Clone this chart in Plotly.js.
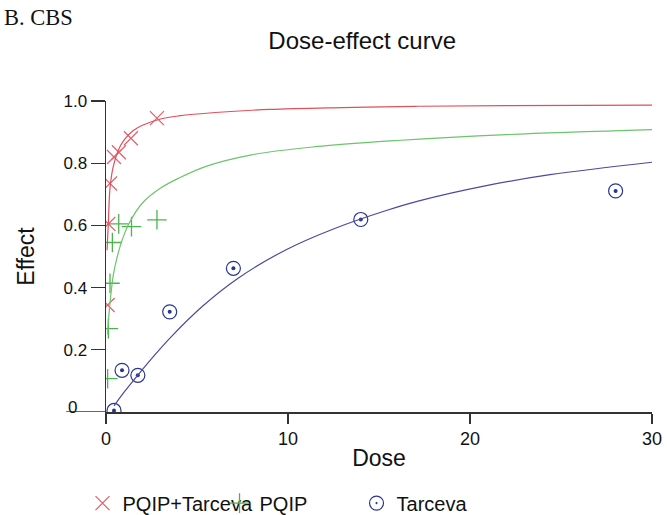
<!DOCTYPE html>
<html>
<head>
<meta charset="utf-8">
<script src="https://cdn.plot.ly/plotly-3.0.1.min.js"></script>
<style>html,body{margin:0;padding:0;background:#fff;}#chart{width:667px;height:515px;}</style>
</head>
<body>
<div id="chart"></div>
<script>
// Observed points
const comboDose   = [0.09, 0.13, 0.22, 0.44, 0.71, 1.37, 2.8];
const comboEffect = [0.344, 0.605, 0.735, 0.82, 0.835, 0.88, 0.945];
const pqipDose    = [0.09, 0.13, 0.22, 0.35, 0.7, 1.4, 2.8];
const pqipEffect  = [0.107, 0.268, 0.414, 0.545, 0.605, 0.596, 0.618];
const tarDose     = [0.44, 0.88, 1.75, 3.5, 7, 14, 28];
const tarEffect   = [0.005, 0.134, 0.118, 0.322, 0.462, 0.619, 0.711];

// Fitted curves
const comboCurveDose   = [0.06, 0.09, 0.13, 0.22, 0.4, 0.7, 1.0, 1.5, 2.0, 3.0, 4.0, 6.0, 9.0, 13, 17, 22, 30];
const comboCurveEffect = [0.52, 0.56, 0.61, 0.72, 0.79, 0.845, 0.875, 0.905, 0.922, 0.942, 0.952, 0.963, 0.973, 0.979, 0.983, 0.985, 0.987];
const pqipCurveDose    = [0.09, 0.13, 0.22, 0.4, 0.6, 0.9, 1.3, 2.0, 3.0, 4.0, 5.5, 8.0, 11.5, 16, 22, 30];
const pqipCurveEffect  = [0.25, 0.29, 0.35, 0.44, 0.495, 0.555, 0.61, 0.672, 0.72, 0.752, 0.79, 0.827, 0.853, 0.873, 0.892, 0.908];
const tarCurveDose     = [0.44, 0.9, 1.74, 2.6, 3.5, 5.3, 7.2, 9.9, 12.6, 15.4, 17.2, 20.9, 24.4, 30];
const tarCurveEffect   = [0.02, 0.057, 0.118, 0.178, 0.237, 0.34, 0.428, 0.522, 0.591, 0.648, 0.679, 0.728, 0.763, 0.803];

const seriesNames = ['PQIP+Tarceva', 'PQIP', 'Tarceva'];
const xTickVals = [0, 10, 20, 30];
const yTickVals = [0.2, 0.4, 0.6, 0.8, 1.0];
const yTickText = ['0.2', '0.4', '0.6', '0.8', '1.0'];

const FONT = 'Arial, "Liberation Sans", sans-serif';
const RED_LINE = '#e0505a', RED_MK = '#e06470';
const GREEN_LINE = '#6cc46c', GREEN_MK = '#4cb44c';
const BLUE_LINE = '#4a4a9e', BLUE_MK = '#2a3590';

const traces = [
  {x: comboDose, y: comboEffect, name: seriesNames[0], mode: 'markers', type: 'scatter',
   marker: {symbol: 'x-thin-open', size: 14, color: RED_MK, line: {color: RED_MK, width: 1.3}}},
  {x: pqipDose, y: pqipEffect, name: seriesNames[1], mode: 'markers', type: 'scatter',
   marker: {symbol: 'cross-thin-open', size: 14, color: GREEN_MK, line: {color: GREEN_MK, width: 1.3}}},
  {x: tarDose, y: tarEffect, name: seriesNames[2], mode: 'markers', type: 'scatter',
   marker: {symbol: 'circle-open-dot', size: 14, color: BLUE_MK, line: {color: BLUE_MK, width: 1.2}}},
  {x: tarDose, y: tarEffect, mode: 'markers', type: 'scatter', showlegend: false, hoverinfo: 'skip',
   marker: {symbol: 'circle', size: 4, color: BLUE_MK}},
  {x: comboCurveDose, y: comboCurveEffect, mode: 'lines', type: 'scatter', showlegend: false,
   line: {color: RED_LINE, width: 1.2, shape: 'spline'}},
  {x: pqipCurveDose, y: pqipCurveEffect, mode: 'lines', type: 'scatter', showlegend: false,
   line: {color: GREEN_LINE, width: 1.2, shape: 'spline'}},
  {x: tarCurveDose, y: tarCurveEffect, mode: 'lines', type: 'scatter', showlegend: false,
   line: {color: BLUE_LINE, width: 1.2, shape: 'spline'}}
];

const layout = {
  width: 667, height: 515,
  margin: {l: 106, r: 15, t: 101, b: 103, autoexpand: false},
  paper_bgcolor: '#fff', plot_bgcolor: '#fff',
  font: {family: FONT, color: '#111'},
  title: {text: 'Dose-effect curve', font: {size: 24, family: FONT, color: '#111'},
          x: 0.543, xref: 'container', xanchor: 'center', y: 0.922, yref: 'container', yanchor: 'middle'},
  xaxis: {range: [0, 30], tickvals: xTickVals, ticks: 'outside', ticklen: 10, tickwidth: 1.3, tickcolor: '#333',
          showline: true, linecolor: '#333', linewidth: 1.5, showgrid: false, zeroline: false, automargin: false,
          tickfont: {size: 18, family: FONT, color: '#111'},
          title: {text: 'Dose', font: {size: 23, family: FONT, color: '#111'}, standoff: 2}},
  yaxis: {range: [0, 1.0], tickvals: yTickVals, ticktext: yTickText, ticks: 'outside', ticklen: 14, tickwidth: 1.3, tickcolor: '#333',
          showline: true, linecolor: '#333', linewidth: 1.5, showgrid: false, zeroline: false, automargin: false,
          tickfont: {size: 17, family: FONT, color: '#111'},
          title: {text: 'Effect', font: {size: 23, family: FONT, color: '#111'}, standoff: 22}},
  showlegend: true,
  legend: {orientation: 'h', x: -0.043, xanchor: 'left', y: -0.293, yanchor: 'middle',
           font: {size: 20, family: FONT, color: '#111'}, itemwidth: 30,
           entrywidth: 92, entrywidthmode: 'pixels', bgcolor: 'rgba(0,0,0,0)', tracegroupgap: 0},
  shapes: [
    {type: 'line', xref: 'paper', yref: 'y', x0: -0.073, x1: 0, y0: 0, y1: 0, line: {color: '#333', width: 1.5}}
  ],
  annotations: [
    {text: 'B. CBS', xref: 'paper', yref: 'paper', x: -0.19, y: 1.27, xanchor: 'left', yanchor: 'middle', showarrow: false,
     font: {family: '"Liberation Serif", "Times New Roman", serif', size: 22.5, color: '#111'}},
    {text: '0', xref: 'paper', yref: 'y', x: -0.062, y: 0, xanchor: 'center', yanchor: 'middle', yshift: 5, showarrow: false,
     font: {size: 17, family: FONT, color: '#111'}}
  ]
};

Plotly.newPlot('chart', traces, layout, {displayModeBar: false, staticPlot: true});
</script>
</body>
</html>
